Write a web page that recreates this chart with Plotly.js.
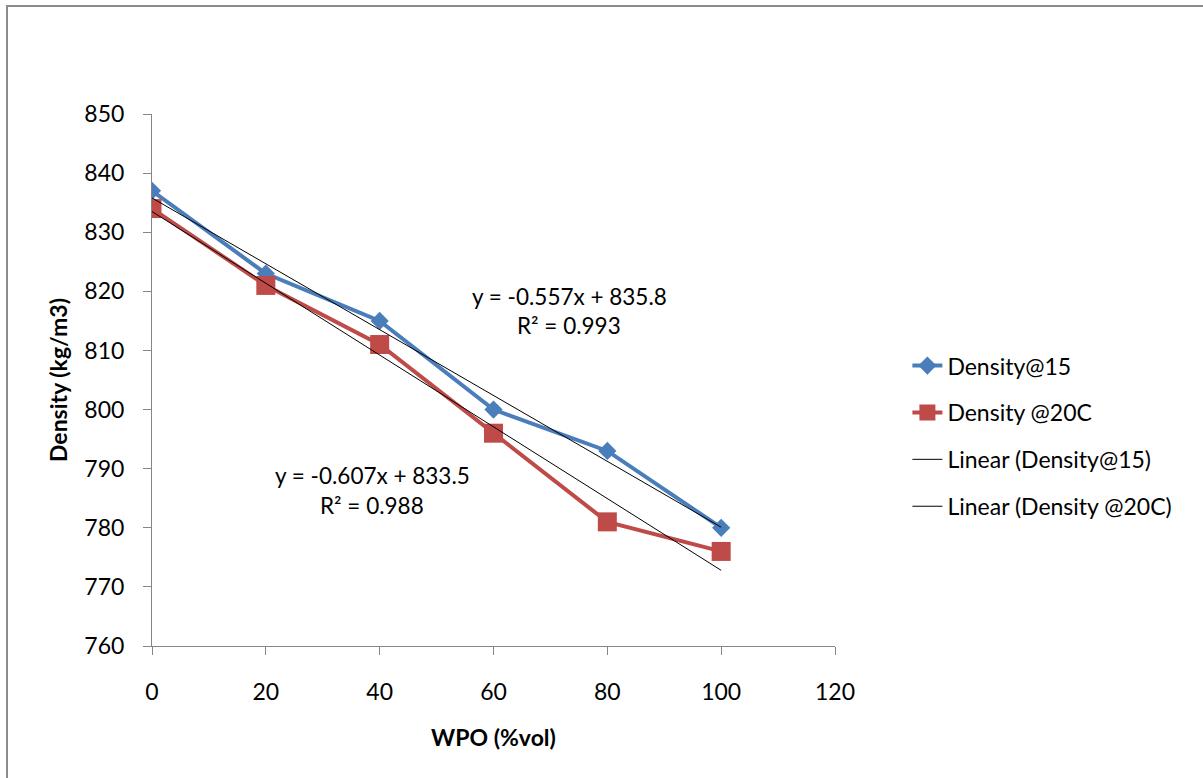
<!DOCTYPE html>
<html>
<head>
<meta charset="utf-8">
<script src="https://cdn.plot.ly/plotly-3.0.1.min.js"></script>
<style>html,body{margin:0;padding:0;background:#fff;}#chart{width:1203px;height:778px;}</style>
</head>
<body>
<div id="chart"></div>
<script>
const wpo = [0, 20, 40, 60, 80, 100];
const density15 = [837, 823, 815, 800, 793, 780];
const density20 = [834, 821, 811, 796, 781, 776];
const trendX = [0, 100];
const trend15 = [835.8, 780.1];
const trend20 = [833.5, 772.8];
const xTicks = [0, 20, 40, 60, 80, 100, 120];
const yTicks = [760, 770, 780, 790, 800, 810, 820, 830, 840, 850];
const eq15 = ["y = -0.557x + 835.8", "R² = 0.993"];
const eq20 = ["y = -0.607x + 833.5", "R² = 0.988"];

const FONT = "Lato, 'Open Sans', sans-serif";

const traces = [
  {x: wpo, y: density15, name: "Density@15", mode: "lines+markers", legendgroup: "a",
   line: {color: "#4A7EBB", width: 4}, marker: {symbol: "diamond", size: 14, color: "#4A7EBB"}},
  {x: wpo, y: density20, name: "Density @20C", mode: "lines+markers", legendgroup: "b",
   line: {color: "#BE4B48", width: 4}, marker: {symbol: "square", size: 19, color: "#BE4B48"}},
  {x: trendX, y: trend15, name: "Linear (Density@15)", mode: "lines", legendgroup: "c",
   line: {color: "#000000", width: 1}},
  {x: trendX, y: trend20, name: "Linear (Density @20C)", mode: "lines", legendgroup: "d",
   line: {color: "#000000", width: 1}}
];

const layout = {
  width: 1203, height: 778,
  margin: {l: 152, r: 368, t: 114, b: 132},
  paper_bgcolor: "#ffffff", plot_bgcolor: "#ffffff",
  font: {family: FONT, size: 23, color: "#000"},
  showlegend: true,
  legend: {x: 1.106, y: 0.5675, xanchor: "left", yanchor: "top", font: {family: FONT, size: 23, color: "#000"},
           tracegroupgap: 14, bgcolor: "rgba(0,0,0,0)"},
  xaxis: {range: [0, 120], tickvals: xTicks, ticktext: xTicks.map(String), showgrid: false, zeroline: false,
          showline: true, linecolor: "#868686", linewidth: 1, ticks: "outside", ticklen: 8, tickcolor: "#868686",
          ticklabelstandoff: 17, tickfont: {size: 23},
          title: {text: "<b>WPO (%vol)</b>", font: {family: FONT, size: 23}, standoff: 26}},
  yaxis: {range: [760, 850], tickvals: yTicks, ticktext: yTicks.map(String), showgrid: false, zeroline: false,
          showline: true, linecolor: "#868686", linewidth: 1, ticks: "outside", ticklen: 8, tickcolor: "#868686",
          ticklabelstandoff: 14, tickfont: {size: 23},
          title: {text: "<b>Density (kg/m3)</b>", font: {family: FONT, size: 23}, standoff: 10}},
  annotations: [
    {x: 73.3, y: 819.2, xref: "x", yref: "y", text: eq15[0], showarrow: false, xanchor: "center", yanchor: "middle", font: {size: 22.5}},
    {x: 73.3, y: 814.3, xref: "x", yref: "y", text: eq15[1], showarrow: false, xanchor: "center", yanchor: "middle", font: {size: 22.5}},
    {x: 38.7, y: 788.8, xref: "x", yref: "y", text: eq20[0], showarrow: false, xanchor: "center", yanchor: "middle", font: {size: 22.5}},
    {x: 38.7, y: 783.7, xref: "x", yref: "y", text: eq20[1], showarrow: false, xanchor: "center", yanchor: "middle", font: {size: 22.5}}
  ],
  shapes: [
    {type: "rect", xref: "paper", yref: "paper", x0: -0.2123, x1: 1.545, y0: -0.26, y1: 1.2028,
     line: {color: "#8c8c8c", width: 2}, fillcolor: "rgba(0,0,0,0)", layer: "below"}
  ]
};

Plotly.newPlot("chart", traces, layout, {displayModeBar: false, staticPlot: true});
</script>
</body>
</html>
